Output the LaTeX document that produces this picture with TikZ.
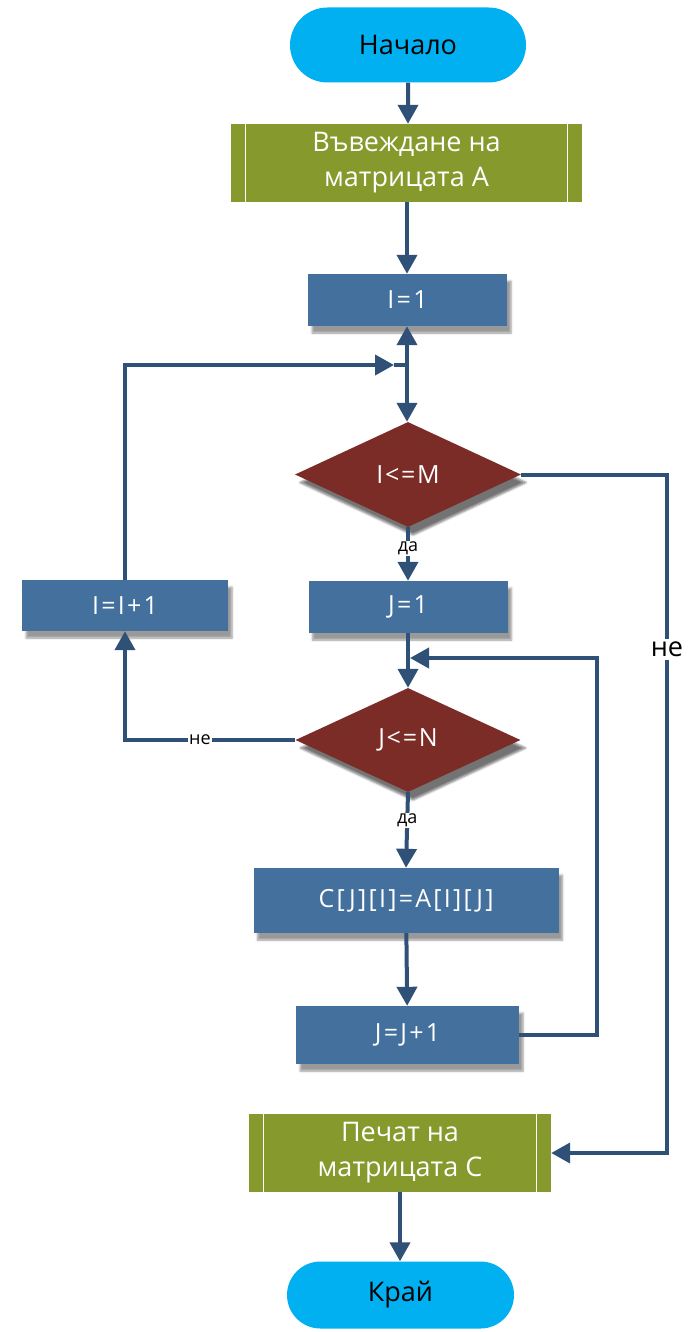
\documentclass[tikz,border=0pt]{standalone}
\usepackage{fontspec}
\setmainfont{Open Sans}
\newfontfamily\boxfont[LetterSpace=9]{Open Sans}
\newfontfamily\decfont[LetterSpace=7]{Open Sans}
\usetikzlibrary{arrows.meta,shapes.geometric,shapes.misc,shadows.blur,calc}

\definecolor{termfill}{HTML}{00B0F0}
\definecolor{iofill}{HTML}{86992C}
\definecolor{procfill}{HTML}{44709D}
\definecolor{decfill}{HTML}{7B2C27}
\definecolor{linecol}{HTML}{2F5178}

\tikzset{
  fs/.style={font=\fontsize{#1}{#1}\selectfont},
  term/.style={rounded rectangle, fill=termfill, text=black, fs=27, inner sep=0pt},
  iobox/.style={rectangle, fill=iofill, text=white, font=\fontsize{27}{35}\selectfont,
    align=center, inner sep=0pt},
  procbox/.style={rectangle, fill=procfill, text=white, font=\boxfont\fontsize{25}{25}\selectfont, inner sep=0pt,
    blur shadow={shadow xshift=4pt, shadow yshift=-7pt, shadow blur steps=5, shadow opacity=40}},
  decbox/.style={diamond, fill=decfill, text=white, font=\decfont\fontsize{25}{25}\selectfont, inner sep=0pt,
    blur shadow={shadow xshift=5pt, shadow yshift=-8pt, shadow blur steps=5, shadow opacity=55}},
  conn/.style={draw=linecol, line width=4pt},
  arr/.style={conn, -{Triangle[length=19pt, width=20pt]}},
  lbl/.style={fill=white, text=black, fs=18, inner sep=1pt},
  lblbig/.style={fill=white, text=black, fs=27, inner sep=3pt},
}

\begin{document}
\begin{tikzpicture}[x=1pt, y=-1pt]
\useasboundingbox (0,0) rectangle (696,1332);

% nodes
\node[term, minimum width=236pt, minimum height=75pt] (start) at (408,45) {Начало};
\node[iobox, minimum width=351pt, minimum height=78pt] (inp) at (406.5,163) {Въвеждане на\\матрицата А};
\node[procbox, minimum width=199pt, minimum height=52pt] (i1) at (407.5,300) {I=1};
\node[decbox, minimum width=226pt, minimum height=105pt] (d1) at (408,474.5) {I<=M};
\node[procbox, minimum width=206pt, minimum height=51pt] (inc) at (125,605.5) {I=I+1};
\node[procbox, minimum width=199pt, minimum height=52pt] (j1) at (408,607) {J=1};
\node[decbox, minimum width=225pt, minimum height=104pt] (d2) at (408,740) {J<=N};
\node[procbox, minimum width=305pt, minimum height=65pt] (asg) at (406,900.5) {C[J][I]=A[I][J]};
\node[procbox, minimum width=223pt, minimum height=58pt] (jinc) at (407.5,1035) {J=J+1};
\node[iobox, minimum width=302pt, minimum height=78pt] (out) at (400,1153) {Печат на\\матрицата С};
\node[term, minimum width=227pt, minimum height=67pt] (end) at (400.5,1295) {Край};

% side bars of the input/output blocks
\foreach \n in {inp,out}{
  \draw[white, line width=1pt] ($(\n.north west)+(15,0)$) -- ($(\n.south west)+(15,0)$);
  \draw[white, line width=1pt] ($(\n.north east)+(-15,0)$) -- ($(\n.south east)+(-15,0)$);
}

% junction points
\coordinate (ja) at (407,365);
\coordinate (jb) at (394,365);
\coordinate (jr) at (667,474.5);
\coordinate (jl) at (125,740);
\coordinate (jc) at (597,1035);
\coordinate (jd) at (410,658);

% connectors
\draw[arr] (start) -- (start |- inp.north);
\draw[arr] (inp.south -| ja) -- (i1.north -| ja);
\draw[arr] (ja) -- (i1.south -| ja);
\draw[arr] (ja) -- (d1.north -| ja);
\draw[arr] (inc.north) |- (jb);
\draw[conn] (jb) -- (ja);
\draw[arr] (d1.south) -- node[lbl, pos=0.4]{да} (j1.north);
\draw[arr] (d1.east) -- (jr) -- node[lblbig, pos=0.258]{не} (jr |- out.east) -- (out.east);
\draw[arr] (j1) -- (d2);
\draw[arr] (jinc.east) -- (jc) |- (jd);
\draw[arr] (d2.west) -- node[lbl, pos=0.56]{не} (jl) -- (inc.south);
\draw[arr] (d2.south) -- node[lbl, pos=0.37]{да} (asg.north);
\draw[arr] (asg) -- (jinc);
\draw[arr] (out) -- (out |- end.north);
\end{tikzpicture}
\end{document}
